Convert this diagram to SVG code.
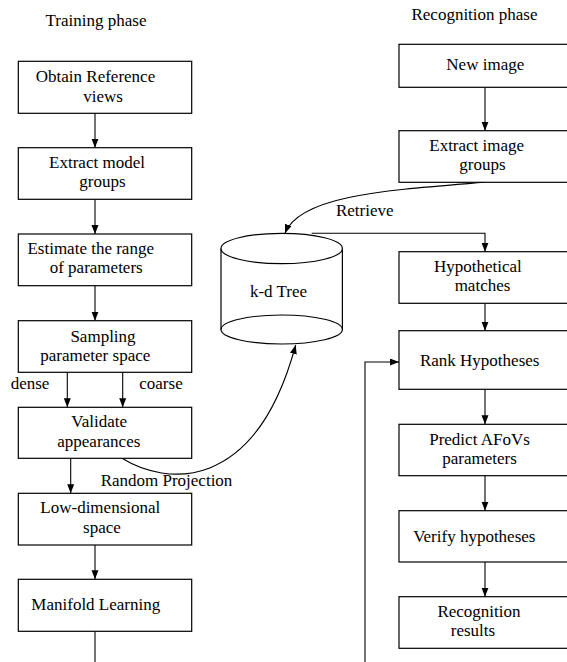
<svg xmlns="http://www.w3.org/2000/svg" width="567" height="662" viewBox="0 0 567 662">
<style>
  .box { fill: #fff; stroke: #000; stroke-width: 1.2; }
  .ln { fill: none; stroke: #000; stroke-width: 1.1; }
  .t { font-family: "Liberation Serif", "Times New Roman", serif; font-size: 17px; fill: #000; text-anchor: middle; }
</style>
<defs>
  <marker id="arr" markerUnits="userSpaceOnUse" markerWidth="10" markerHeight="8" refX="9" refY="3.5" orient="auto">
    <path d="M0,0 L9,3.5 L0,7 z" fill="#000"/>
  </marker>
</defs>
<rect width="567" height="662" fill="#fff"/>

<text class="t" x="96" y="26">Training phase</text>
<text class="t" x="474.5" y="20">Recognition phase</text>

<g id="connectors">
  <path class="ln" d="M95,113.3 V147.7" marker-end="url(#arr)"/>
  <path class="ln" d="M95,199.3 V234" marker-end="url(#arr)"/>
  <path class="ln" d="M95,285.7 V320.7" marker-end="url(#arr)"/>
  <path class="ln" d="M67.3,372.3 V407.3" marker-end="url(#arr)"/>
  <path class="ln" d="M122.7,372.3 V407.3" marker-end="url(#arr)"/>
  <path class="ln" d="M70.7,458.3 V493.3" marker-end="url(#arr)"/>
  <path class="ln" d="M95,545 V579.3" marker-end="url(#arr)"/>
  <path class="ln" d="M95,631.3 V662"/>
  <path class="ln" d="M122,458.3 C165,485 255,495 295.7,345" marker-end="url(#arr)"/>
  <path class="ln" d="M485,87.3 V130.7" marker-end="url(#arr)"/>
  <path class="ln" d="M484,182.3 C390,190 300,195 285,233.3" marker-end="url(#arr)"/>
  <path class="ln" d="M311.7,233.3 H485 V251.7" marker-end="url(#arr)"/>
  <path class="ln" d="M485,303.3 V330.7" marker-end="url(#arr)"/>
  <path class="ln" d="M485,389.3 V424.3" marker-end="url(#arr)"/>
  <path class="ln" d="M485,475.7 V510.7" marker-end="url(#arr)"/>
  <path class="ln" d="M485,562 V596.7" marker-end="url(#arr)"/>
  <path class="ln" d="M365,662 V362 H399" marker-end="url(#arr)"/>
  <text class="t" x="30" y="389">dense</text>
  <text class="t" x="161" y="389">coarse</text>
  <text class="t" x="166.5" y="486">Random Projection</text>
  <text class="t" x="364.7" y="215.7">Retrieve</text>
</g>

<g id="obtain">
  <rect class="box" x="18.3" y="61.3" width="173.4" height="52"/>
  <text class="t" x="95.5" y="82.3">Obtain Reference</text>
  <text class="t" x="103" y="101.7">views</text>
</g>
<g id="extract-model">
  <rect class="box" x="18.3" y="147.7" width="173.4" height="51.6"/>
  <text class="t" x="97" y="168.3">Extract model</text>
  <text class="t" x="102.5" y="187.3">groups</text>
</g>
<g id="estimate">
  <rect class="box" x="18.3" y="234" width="173.4" height="51.7"/>
  <text class="t" x="90.7" y="254">Estimate the range</text>
  <text class="t" x="96.2" y="273">of parameters</text>
</g>
<g id="sampling">
  <rect class="box" x="18.3" y="320.7" width="173.4" height="51.6"/>
  <text class="t" x="103" y="342">Sampling</text>
  <text class="t" x="95.3" y="361">parameter space</text>
</g>
<g id="validate">
  <rect class="box" x="18.3" y="407.3" width="173.4" height="51"/>
  <text class="t" x="99.2" y="427">Validate</text>
  <text class="t" x="98.8" y="446.5">appearances</text>
</g>
<g id="lowdim">
  <rect class="box" x="18.3" y="493.3" width="173.4" height="51.7"/>
  <text class="t" x="100.3" y="513.3">Low-dimensional</text>
  <text class="t" x="102" y="532.5">space</text>
</g>
<g id="manifold">
  <rect class="box" x="18.3" y="579.3" width="173.4" height="52"/>
  <text class="t" x="95.8" y="610">Manifold Learning</text>
</g>

<g id="kdtree">
  <path class="box" d="M221,248.5 V329.5 A60.7,14.5 0 0 0 342.4,329.5 V248.5"/>
  <ellipse class="box" cx="281.7" cy="248.5" rx="60.7" ry="15.2"/>
  <path class="ln" d="M221,329.5 A60.7,14.5 0 0 1 342.4,329.5"/>
  <text class="t" x="278.5" y="296.7">k-d Tree</text>
</g>

<g id="new-image">
  <rect class="box" x="399" y="44.3" width="175" height="43"/>
  <text class="t" x="485.3" y="70">New image</text>
</g>
<g id="extract-image">
  <rect class="box" x="399" y="130.7" width="175" height="51.6"/>
  <text class="t" x="476.7" y="150.7">Extract image</text>
  <text class="t" x="482.5" y="170">groups</text>
</g>
<g id="hypothetical">
  <rect class="box" x="399" y="251.7" width="175" height="51.6"/>
  <text class="t" x="477.8" y="272.3">Hypothetical</text>
  <text class="t" x="482.5" y="290.7">matches</text>
</g>
<g id="rank">
  <rect class="box" x="399" y="330.7" width="175" height="58.6"/>
  <text class="t" x="479.7" y="366">Rank Hypotheses</text>
</g>
<g id="predict">
  <rect class="box" x="399" y="424.3" width="175" height="51.4"/>
  <text class="t" x="479.5" y="445">Predict AFoVs</text>
  <text class="t" x="479.5" y="464">parameters</text>
</g>
<g id="verify">
  <rect class="box" x="399" y="510.7" width="175" height="51.3"/>
  <text class="t" x="474.3" y="541.7">Verify hypotheses</text>
</g>
<g id="results">
  <rect class="box" x="399" y="596.7" width="175" height="51.6"/>
  <text class="t" x="479" y="617.3">Recognition</text>
  <text class="t" x="473" y="636">results</text>
</g>
</svg>
